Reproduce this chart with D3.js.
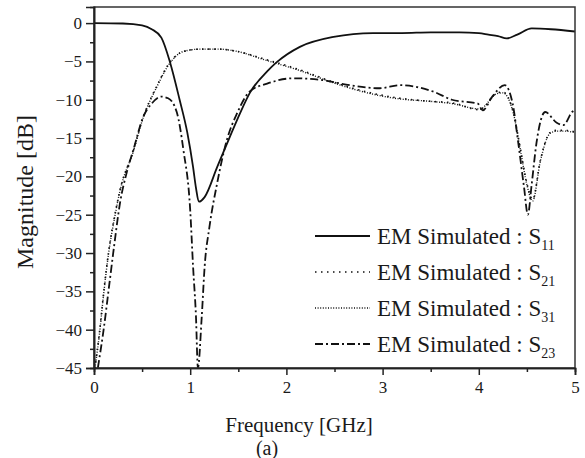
<!DOCTYPE html>
<html>
<head>
<meta charset="utf-8">
<script src="https://cdn.jsdelivr.net/npm/d3@7"></script>
<style>
body { margin: 0; background: #fff; }
text { font-family: "Liberation Serif", "Times New Roman", serif; fill: #1a1a1a; }
</style>
</head>
<body>
<svg width="585" height="458"></svg>
<script>
// data
var xTicks = [0, 1, 2, 3, 4, 5];
var yTicks = [0, -5, -10, -15, -20, -25, -30, -35, -40, -45];

var s11F = [0, 0.3, 0.5, 0.6, 0.7, 0.79, 0.89, 0.97, 1.03, 1.06, 1.09, 1.15, 1.28, 1.41, 1.52, 1.62, 1.8, 1.9, 2.14, 2.49, 2.9, 3.2, 3.5, 3.8, 4.0, 4.1, 4.2, 4.29, 4.4, 4.55, 4.75, 5.0];
var s11 = [0, -0.05, -0.3, -0.8, -1.9, -5.1, -10, -14.3, -18.8, -21.5, -23.3, -22.7, -18.8, -14.9, -11.7, -9.1, -6.3, -5.1, -3.1, -1.8, -1.3, -1.3, -1.2, -1.2, -1.3, -1.5, -1.7, -2.0, -1.5, -0.7, -0.8, -1.1];

var s21F = [0.01, 0.06, 0.1, 0.15, 0.22, 0.27, 0.41, 0.51, 0.65, 0.79, 0.93, 1.1, 1.3, 1.45, 1.8, 2.14, 2.49, 2.84, 3.18, 3.49, 3.72, 4.01, 4.19, 4.25, 4.36, 4.43, 4.5, 4.56, 4.64, 4.74, 4.81, 4.9, 5.0];
var s21 = [-45, -40, -35.2, -30, -24.8, -21.8, -16.6, -12.3, -8.3, -5.1, -3.7, -3.4, -3.4, -3.6, -4.8, -6.1, -7.7, -9, -9.8, -10.2, -10.4, -11.3, -9.1, -9, -11.7, -16.2, -20.9, -23, -17.9, -14.3, -14, -14, -14.2];

var s31F = [0.01, 0.06, 0.1, 0.15, 0.22, 0.27, 0.41, 0.51, 0.65, 0.79, 0.93, 1.1, 1.3, 1.45, 1.8, 2.14, 2.49, 2.84, 3.18, 3.49, 3.72, 4.01, 4.19, 4.25, 4.36, 4.43, 4.5, 4.56, 4.64, 4.74, 4.81, 4.9, 5.0];
var s31 = [-45, -40.2, -35.4, -30.2, -25, -21.9, -16.7, -12.4, -8.4, -5.2, -3.7, -3.4, -3.4, -3.6, -4.9, -6.2, -7.8, -9.1, -9.9, -10.2, -10.5, -11.2, -9.2, -9.1, -11.8, -16.4, -21.1, -23.2, -18, -14.4, -14.1, -14.1, -14.3];

var s23F = [0.04, 0.1, 0.16, 0.21, 0.27, 0.34, 0.41, 0.51, 0.6, 0.7, 0.77, 0.86, 0.93, 1.0, 1.03, 1.06, 1.08, 1.12, 1.15, 1.2, 1.28, 1.38, 1.49, 1.62, 1.8, 2.07, 2.35, 2.66, 2.97, 3.18, 3.54, 3.72, 3.99, 4.04, 4.14, 4.27, 4.35, 4.41, 4.47, 4.51, 4.55, 4.6, 4.69, 4.81, 4.88, 4.97, 5.0];
var s23 = [-45, -40, -34, -29, -23.5, -19.5, -16.5, -12.3, -10.5, -9.6, -9.8, -11.6, -16.6, -24.4, -31.8, -38.3, -45, -38.3, -31.8, -26.6, -20.9, -15.3, -11.7, -8.9, -7.9, -7.2, -7.4, -8.1, -8.5, -8.1, -9, -10, -10.5, -11.4, -9.6, -8.1, -10.4, -15.6, -21.4, -25, -21, -15.6, -11.6, -13, -13.3, -11.6, -11.3];

var legendNames = ["11", "21", "31", "23"];

var svg = d3.select("svg");
var mLeft = 94, mRight = 575, mTop = 7, mBottom = 368;

var x = d3.scaleLinear().domain([0, 5]).range([mLeft, mRight]);
var y = d3.scaleLinear().domain([-45, 2.1]).range([mBottom, mTop]);

svg.append("clipPath").attr("id", "clip").append("rect")
  .attr("x", mLeft).attr("y", mTop).attr("width", mRight - mLeft).attr("height", mBottom - mTop);

var series = [
  {f: s11F, v: s11, dash: null, w: 1.8},
  {f: s21F, v: s21, dash: "1.5,4.5", w: 1.6},
  {f: s31F, v: s31, dash: "1,1.6", w: 1.4},
  {f: s23F, v: s23, dash: "8,3,2,3", w: 1.8}
];

var line = d3.line()
  .x(function(d) { return x(d[0]); })
  .y(function(d) { return y(d[1]); })
  .curve(d3.curveMonotoneX);

var g = svg.append("g").attr("clip-path", "url(#clip)");
series.forEach(function(s) {
  g.append("path")
    .datum(d3.zip(s.f, s.v))
    .attr("d", line)
    .attr("fill", "none")
    .attr("stroke", "#111")
    .attr("stroke-width", s.w)
    .attr("stroke-dasharray", s.dash);
});

// frame
svg.append("rect").attr("x", mLeft).attr("y", mTop).attr("width", mRight - mLeft).attr("height", mBottom - mTop)
  .attr("fill", "none").attr("stroke", "#333").attr("stroke-width", 1.5);

// axes
var xAxis = d3.axisBottom(x).tickValues(xTicks).tickSize(7).tickPadding(6).tickFormat(d3.format("d"));
var yAxis = d3.axisLeft(y).tickValues(yTicks).tickSize(8).tickPadding(4).tickFormat(d3.format("d"));
var xMinor = d3.axisBottom(x).tickValues([0.5, 1.5, 2.5, 3.5, 4.5]).tickSize(4).tickFormat("");
var yMinor = d3.axisLeft(y).tickValues([-2.5, -7.5, -12.5, -17.5, -22.5, -27.5, -32.5, -37.5, -42.5]).tickSize(4).tickFormat("");

function styleAxis(sel) {
  sel.select(".domain").attr("stroke", "#222").attr("stroke-width", 1.6);
  sel.selectAll(".tick line").attr("stroke", "#222").attr("stroke-width", 1.5);
  sel.selectAll("text").style("font-family", "Liberation Serif").style("font-size", "17px").attr("fill", "#1a1a1a");
}
svg.append("g").attr("transform", "translate(0," + mBottom + ")").call(xAxis).call(styleAxis);
svg.append("g").attr("transform", "translate(0," + mBottom + ")").call(xMinor).call(styleAxis);
svg.append("g").attr("transform", "translate(" + mLeft + ",0)").call(yAxis).call(styleAxis);
svg.append("g").attr("transform", "translate(" + mLeft + ",0)").call(yMinor).call(styleAxis);

// labels
svg.append("text").attr("x", 299).attr("y", 432).attr("text-anchor", "middle")
  .style("font-size", "21px").text("Frequency [GHz]");
svg.append("text").attr("x", 267).attr("y", 455).attr("text-anchor", "middle")
  .style("font-size", "20px").text("(a)");
svg.append("text").attr("transform", "translate(33,192) rotate(-90)").attr("text-anchor", "middle")
  .style("font-size", "24px").text("Magnitude [dB]");

// legend
var lg = svg.append("g");
series.forEach(function(s, i) {
  var yy = 236 + i * 36;
  lg.append("line").attr("x1", 315).attr("x2", 370).attr("y1", yy).attr("y2", yy)
    .attr("stroke", "#111").attr("stroke-width", s.w).attr("stroke-dasharray", s.dash);
  var t = lg.append("text").attr("x", 377).attr("y", yy + 8).style("font-size", "23px");
  t.append("tspan").text("EM Simulated : S");
  t.append("tspan").attr("dy", 6).style("font-size", "14px").text(legendNames[i]);
});
</script>
</body>
</html>
